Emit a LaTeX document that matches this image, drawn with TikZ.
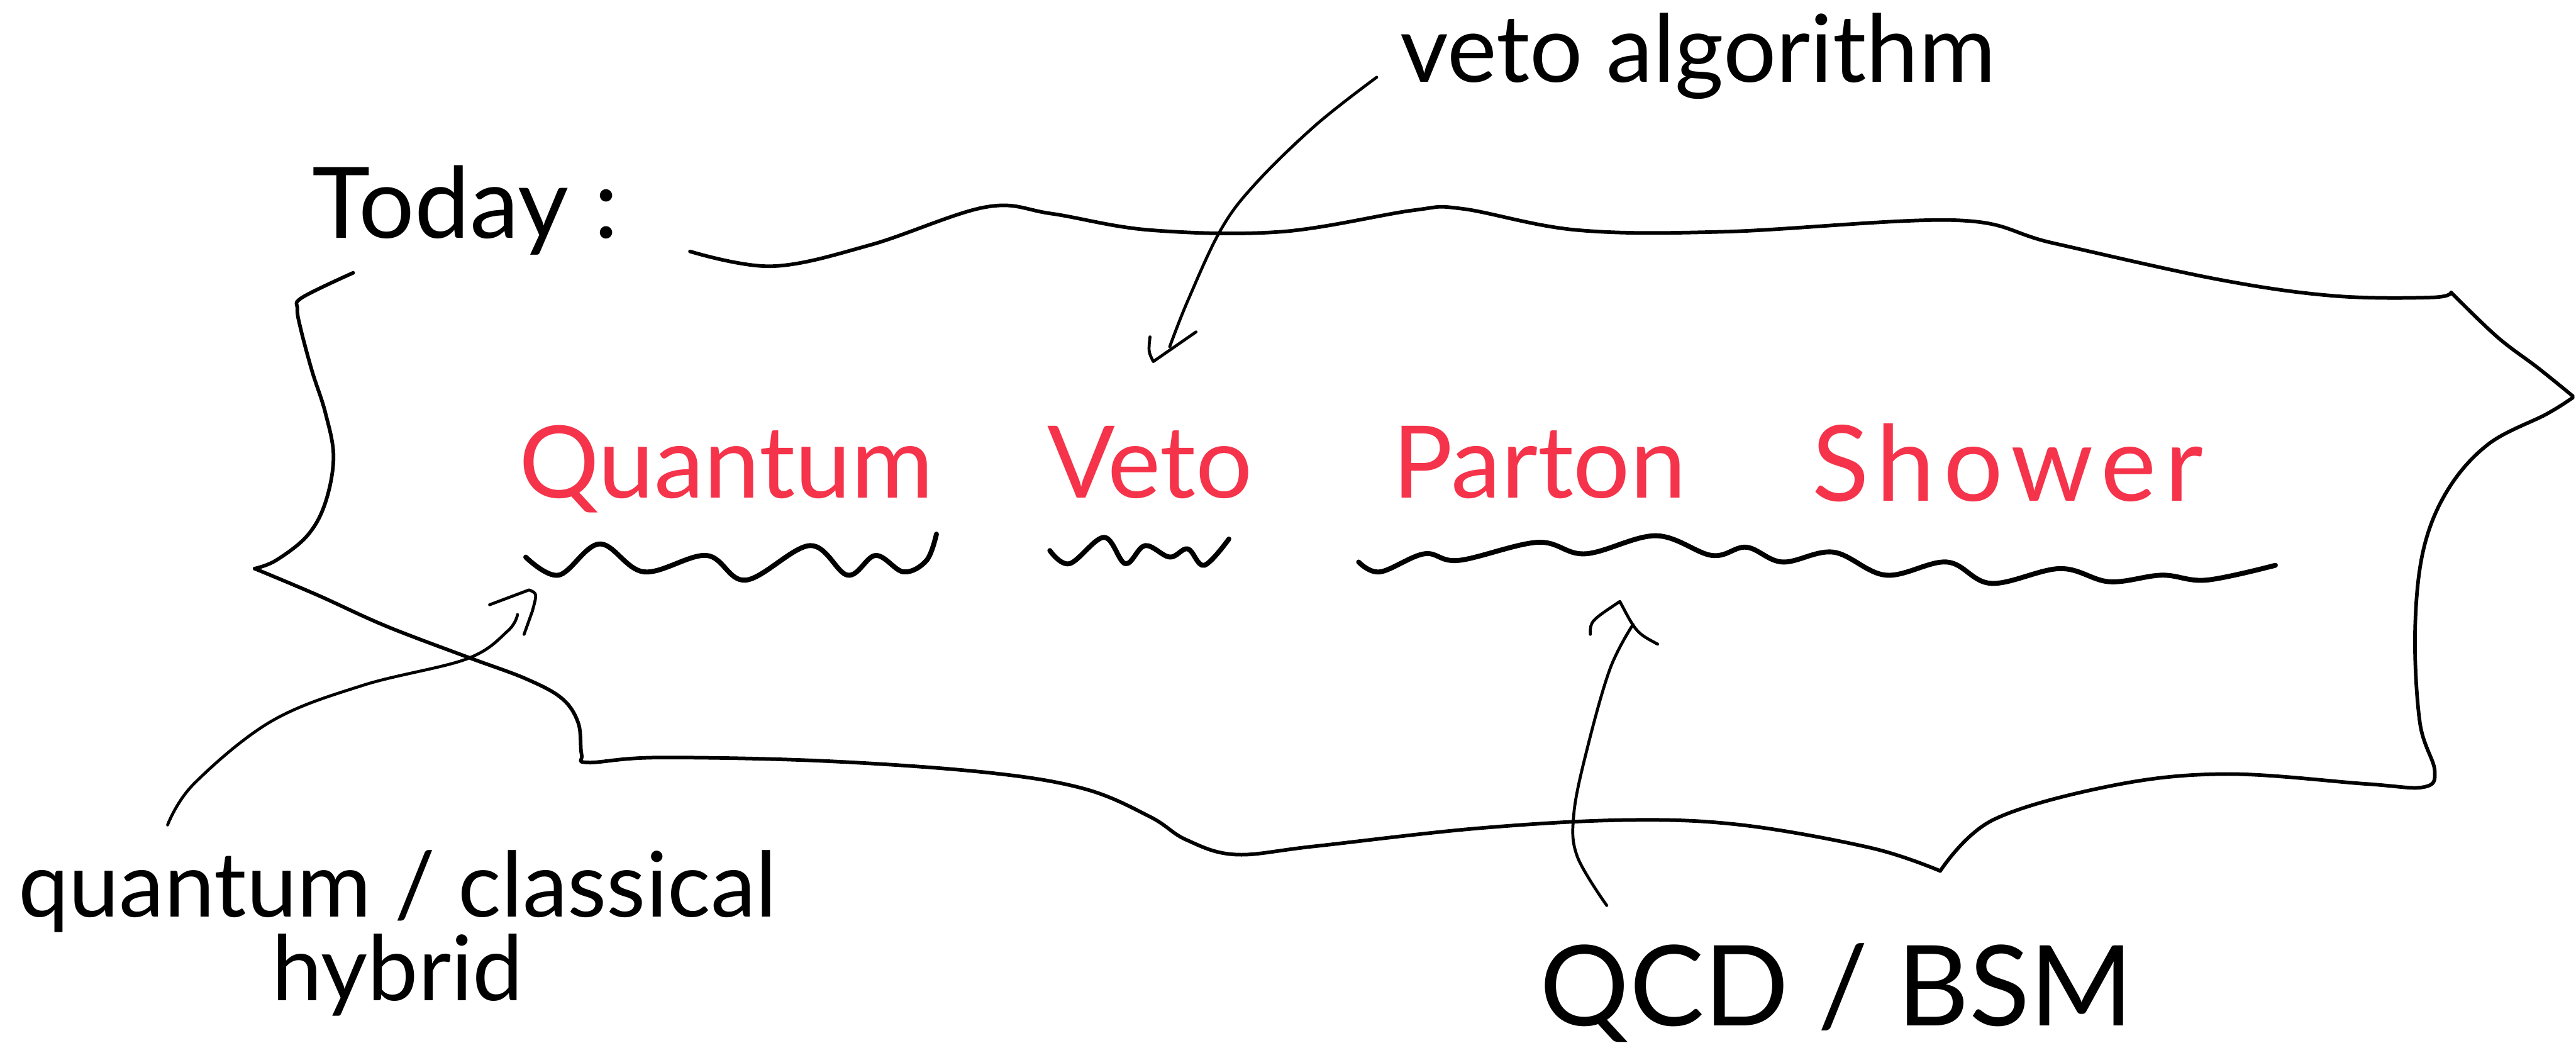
\documentclass[tikz,border=0pt]{standalone}
\usepackage{fontspec}
\setmainfont{Lato}
\definecolor{penred}{HTML}{F5334A}
\begin{document}
\begin{tikzpicture}[x=1pt,y=-1pt,
  pen/.style={line width=2.2pt, line cap=round, line join=round, black},
  arrowpen/.style={line width=1.8pt, line cap=round, line join=round, black},
  thickpen/.style={line width=3pt, line cap=round, line join=round, black},
  redword/.style={text=penred, font=\fontsize{61}{67}\selectfont, anchor=base, inner sep=0pt},
  blackword/.style={text=black, anchor=base, inner sep=0pt}]
\useasboundingbox (0,0) rectangle (1568,645);
\fill[white] (0,0) rectangle (1568,645);

% ---------- texts ----------
\node[blackword, anchor=base west, font=\fontsize{60}{66}\selectfont] (today) at (190,145) {Today :};
\node[blackword, anchor=base west, font=\fontsize{57}{64}\selectfont] (veto) at (852,50) {veto algorithm};
\node[redword] (quantum) at (442,303) {Quantum};
\node[redword] (vetoR) at (700,303) {Veto};
\node[redword] (parton) at (937,303) {Parton};
\node[redword, font=\fontsize{64}{70}\selectfont\addfontfeature{LetterSpace=8}] (shower) at (1222,305) {Shower};
\node[blackword, align=center, font=\fontsize{55}{47}\selectfont] (hyb) at (242,609) {quantum / classical\\hybrid};
\node[blackword, font=\fontsize{68}{74}\selectfont] (qcd) at (1118,624) {QCD / BSM};

% ---------- cloud ----------
\draw[pen] plot[smooth, tension=0.6] coordinates {(420,153) (470,162) (530,149) (600,126) (640,130) (700,140) (780,141) (860,128) (890,127) (960,140) (1050,141) (1190,134) (1250,148) (1350,170) (1420,180) (1480,181) (1492,178)};
\draw[pen] plot[smooth, tension=0.6] coordinates {(1492,178) (1520,205) (1545,224) (1566,241)};
\draw[pen] plot[smooth, tension=0.6] coordinates {(1566,242) (1550,252) (1515,270) (1490,298) (1475,335) (1470,385) (1473,440) (1482,469) (1475,479) (1440,477) (1355,471) (1286,478) (1213,499) (1181,530)};
\draw[pen] plot[smooth, tension=0.6] coordinates {(1181,530) (1139,516) (1060,502) (990,499) (900,504) (800,515) (752,520) (722,511) (700,497) (660,480) (600,470) (500,463) (400,461) (358,464) (354,459) (352,440) (342,425) (320,413) (285,400) (235,381) (193,362) (155,346)};
\draw[pen] plot[smooth, tension=0.6] coordinates {(155,346) (168,341) (187,326) (198,306) (203,278) (198,251) (190,226) (183,200) (181,188) (184,181) (215,166)};

% ---------- underlines ----------
\draw[thickpen] plot[smooth, tension=0.6] coordinates {(320,339) (340,350) (365,331) (392,348) (430,338) (454,353) (493,332) (516,350) (533,338) (550,348) (564,341) (570,325)};
\draw[thickpen] plot[smooth, tension=0.6] coordinates {(639,335) (651,343) (672,327) (685,343) (697,332) (712,339) (723,334) (733,344) (748,328)};
\draw[thickpen] plot[smooth, tension=0.6] coordinates {(827,342) (840,348) (867,337) (888,341) (936,330) (965,337) (1008,326) (1042,338) (1063,333) (1085,342) (1116,336) (1148,350) (1185,342) (1212,355) (1254,346) (1284,354) (1316,350) (1343,353) (1385,344)};

% ---------- arrows ----------
\coordinate (vaS) at (838,47);
\coordinate (vaE) at (712,211);
\coordinate (vaT) at (702,220);
\draw[arrowpen] plot[smooth, tension=0.6] coordinates {(vaS) (801,76) (764,112) (743,140) (723,183) (vaE)};
\draw[arrowpen] (700,205) .. controls (699,214) .. (vaT) -- (728,202);

\coordinate (hyS) at (102,502);
\coordinate (hyE) at (315,374);
\coordinate (hyT) at (322,359);
\draw[arrowpen] plot[smooth, tension=0.6] coordinates {(hyS) (118,477) (165,439) (221,417) (284,401) (309,384) (hyE)};
\draw[arrowpen] (298,368) -- (hyT) .. controls (327,361) .. (324,372) -- (319,386);

\coordinate (qcS) at (978,551);
\coordinate (qcE) at (994,380);
\coordinate (qcT) at (986,366);
\draw[arrowpen] plot[smooth, tension=0.6] coordinates {(qcS) (960,521) (958,495) (966,456) (980,407) (qcE)};
\draw[arrowpen] (968,386) .. controls (968,378) .. (qcT) .. controls (996,385) .. (1009,392);
\end{tikzpicture}
\end{document}
